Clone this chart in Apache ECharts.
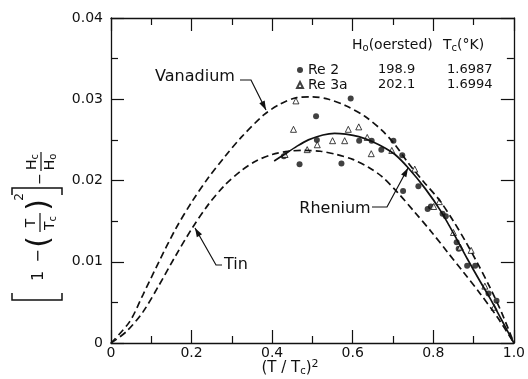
<!DOCTYPE html>
<html><head><meta charset="utf-8">
<script src="https://cdn.jsdelivr.net/npm/echarts@6/dist/echarts.min.js"></script>
<style>html,body{margin:0;padding:0;background:#fff}#c{width:528px;height:379px}</style>
</head><body><div id="c"></div>
<script>
// ---- data ----
const xTickLabels = ['0', '0.2', '0.4', '0.6', '0.8', '1.0'];
const yTickLabels = ['0', '0.01', '0.02', '0.03', '0.04'];

const vanadium = [[0,0],[0.046,0.0026],[0.079,0.0059],[0.119,0.0100],[0.160,0.0140],[0.201,0.0174],[0.241,0.0203],[0.282,0.0229],[0.323,0.0253],[0.380,0.0281],[0.420,0.0294],[0.461,0.0302],[0.500,0.0303],[0.540,0.0300],[0.583,0.0292],[0.630,0.0279],[0.672,0.0262],[0.705,0.0244],[0.737,0.0222],[0.775,0.0199],[0.815,0.0176],[0.850,0.0150],[0.880,0.0125],[0.910,0.0098],[0.940,0.0069],[0.970,0.0037],[1,0]];
const tin = [[0,0],[0.038,0.0014],[0.079,0.0038],[0.119,0.0071],[0.160,0.0107],[0.201,0.0141],[0.241,0.0170],[0.282,0.0194],[0.323,0.0212],[0.360,0.0224],[0.400,0.0232],[0.440,0.0236],[0.480,0.0237],[0.520,0.0236],[0.560,0.0232],[0.600,0.0226],[0.640,0.0216],[0.672,0.0205],[0.710,0.0186],[0.754,0.0161],[0.795,0.0137],[0.835,0.0112],[0.875,0.0087],[0.916,0.0061],[0.960,0.0031],[1,0]];
const rhenium = [[0.405,0.0224],[0.430,0.0232],[0.461,0.0242],[0.490,0.0250],[0.526,0.0256],[0.555,0.0258],[0.583,0.0257],[0.615,0.0254],[0.648,0.0248],[0.680,0.0240],[0.705,0.0232],[0.737,0.0216],[0.780,0.0190],[0.819,0.0162],[0.859,0.0127],[0.884,0.0104],[0.916,0.0076],[0.941,0.0055],[0.970,0.0028],[1,0]];

const re2 = [[0.595,0.0301],[0.509,0.0279],[0.511,0.0250],[0.616,0.0249],[0.647,0.0249],[0.671,0.0238],[0.701,0.0249],[0.723,0.0231],[0.429,0.0230],[0.468,0.0220],[0.572,0.0221],[0.725,0.0187],[0.763,0.0193],[0.786,0.0165],[0.794,0.0168],[0.823,0.0159],[0.831,0.0156],[0.858,0.0124],[0.863,0.0116],[0.884,0.0095],[0.904,0.0095],[0.937,0.0061],[0.957,0.0052]];
const re3a = [[0.459,0.0298],[0.453,0.0263],[0.589,0.0263],[0.615,0.0266],[0.550,0.0249],[0.580,0.0249],[0.636,0.0253],[0.512,0.0244],[0.487,0.0238],[0.432,0.0232],[0.646,0.0233],[0.697,0.0237],[0.754,0.0214],[0.801,0.0168],[0.815,0.0174],[0.850,0.0136],[0.867,0.0118],[0.894,0.0114],[0.928,0.0070],[0.951,0.0044]];

const seriesNames = ['Re 2', 'Re 3a'];
const h0Values = ['198.9', '202.1'];
const tcValues = ['1.6987', '1.6994'];
const curveLabels = ['Vanadium', 'Rhenium', 'Tin'];

// ---- chart ----
const F = 'DejaVu Sans';
const chart = echarts.init(document.getElementById('c'), null, {renderer: 'canvas'});
const axisCommon = {
  axisLine: {onZero: false, lineStyle: {color: '#111', width: 1.3}},
  axisTick: {inside: true, length: 13, lineStyle: {color: '#111', width: 1.2}},
  minorTick: {show: true, splitNumber: 2, length: 7, lineStyle: {color: '#111', width: 1.2}},
  splitLine: {show: false}, minorSplitLine: {show: false}
};
function arrow(pts) {
  const n = pts.length, t = pts[n-1], p = pts[n-2];
  const dx = t[0]-p[0], dy = t[1]-p[1], L = Math.hypot(dx, dy), ux = dx/L, uy = dy/L;
  const b = [t[0]-ux*9, t[1]-uy*9];
  return [
    {type: 'polyline', shape: {points: pts}, style: {stroke: '#111', lineWidth: 1.2, fill: null}},
    {type: 'polygon', shape: {points: [t, [b[0]-uy*3, b[1]+ux*3], [b[0]+uy*3, b[1]-ux*3]]}, style: {fill: '#111'}}
  ];
}
const txt = (x, y, s, size, extra) => Object.assign({type: 'text', x, y, style: Object.assign({text: s, fontFamily: F, fontSize: size, fill: '#111', align: 'center', verticalAlign: 'middle'}, extra || {})});
const sub = {s: {fontFamily: F, fontSize: 10, fill: '#111', padding: [7, 0, 0, 0]}};

const yLabel = {
  type: 'group', x: 37, y: 300, rotation: Math.PI / 2,
  children: [
    {type: 'polyline', shape: {points: [[7,-25],[0,-25],[0,25],[7,25]]}, style: {stroke: '#111', lineWidth: 1.5, fill: null}},
    txt(24, 2, '1', 16), txt(44, 2, '−', 16),
    txt(58, 3, '(', 30),
    txt(77, -6, 'T', 14),
    {type: 'line', shape: {x1: 68, y1: 3, x2: 87, y2: 3}, style: {stroke: '#111', lineWidth: 1.2}},
    txt(77, 13, '{t|T}{s|c}', 14, {rich: {t: {fontFamily: F, fontSize: 14, fill: '#111'}, s: sub.s}}),
    txt(95, 3, ')', 30),
    txt(103, -17, '2', 12),
    {type: 'polyline', shape: {points: [[105,-25],[112,-25],[112,25],[105,25]]}, style: {stroke: '#111', lineWidth: 1.5, fill: null}},
    txt(121, 3, '−', 14),
    txt(138, -5, '{t|H}{s|c}', 14, {rich: {t: {fontFamily: F, fontSize: 14, fill: '#111'}, s: sub.s}}),
    {type: 'line', shape: {x1: 129, y1: 4, x2: 148, y2: 4}, style: {stroke: '#111', lineWidth: 1.2}},
    txt(138, 13, '{t|H}{s|o}', 14, {rich: {t: {fontFamily: F, fontSize: 14, fill: '#111'}, s: sub.s}})
  ]
};

const graphics = [
  yLabel,
  txt(290, 368, '{t|(T / T}{s|c}{t|)}{p|2}', 15, {rich: {t: {fontFamily: F, fontSize: 15, fill: '#111'}, s: sub.s, p: {fontFamily: F, fontSize: 11, fill: '#111', padding: [0, 0, 8, 0]}}}),
  txt(352, 45, '{t|H}{s|o}{t|(oersted)}', 14, {align: 'left', rich: {t: {fontFamily: F, fontSize: 14, fill: '#111'}, s: sub.s}}),
  txt(443, 45, '{t|T}{s|c}{t|(°K)}', 14, {align: 'left', rich: {t: {fontFamily: F, fontSize: 14, fill: '#111'}, s: sub.s}}),
  txt(378, 70, h0Values[0], 13, {align: 'left'}), txt(447, 70, tcValues[0], 13, {align: 'left'}),
  txt(378, 85, h0Values[1], 13, {align: 'left'}), txt(447, 85, tcValues[1], 13, {align: 'left'}),
  txt(195, 77, curveLabels[0], 16), ...arrow([[240,80],[251,80],[266,110]]),
  txt(335, 209, curveLabels[1], 16), ...arrow([[372,207],[387,207],[408,168]]),
  txt(236, 265, curveLabels[2], 16), ...arrow([[222,265],[216,265],[195,228]])
];

chart.setOption({
  animation: false,
  backgroundColor: '#fff',
  grid: {left: 111, right: 7, top: 18, bottom: 36},
  legend: {
    data: seriesNames, orient: 'vertical', left: 296, top: 63, padding: 0,
    itemWidth: 6, itemHeight: 6, itemGap: 1,
    textStyle: {fontFamily: F, fontSize: 14, color: '#111', lineHeight: 14}
  },
  xAxis: [
    Object.assign({type: 'value', position: 'bottom', min: 0, max: 1, interval: 0.2,
      axisLabel: {margin: 3, fontFamily: F, fontSize: 14, color: '#111', formatter: v => xTickLabels[Math.round(v / 0.2)]}}, axisCommon),
    Object.assign({type: 'value', position: 'top', min: 0, max: 1, interval: 0.2, axisLabel: {show: false}}, axisCommon)
  ],
  yAxis: [
    Object.assign({type: 'value', position: 'left', min: 0, max: 0.04, interval: 0.01,
      axisLabel: {margin: 8, fontFamily: F, fontSize: 14, color: '#111', formatter: v => yTickLabels[Math.round(v / 0.01)]}}, axisCommon),
    Object.assign({type: 'value', position: 'right', min: 0, max: 0.04, interval: 0.01, axisLabel: {show: false}}, axisCommon)
  ],
  series: [
    {name: 'Vanadium', type: 'line', data: vanadium, smooth: 0.3, showSymbol: false, lineStyle: {color: '#111', width: 1.7, type: [7, 4]}},
    {name: 'Tin', type: 'line', data: tin, smooth: 0.3, showSymbol: false, lineStyle: {color: '#111', width: 1.7, type: [7, 4]}},
    {name: 'Rhenium', type: 'line', data: rhenium, smooth: 0.3, showSymbol: false, lineStyle: {color: '#111', width: 1.7}},
    {name: 'Re 2', type: 'scatter', data: re2, symbol: 'circle', symbolSize: 6, itemStyle: {color: '#111'}},
    {name: 'Re 3a', type: 'scatter', data: re3a, symbol: 'triangle', symbolSize: 6, itemStyle: {color: '#fff', borderColor: '#111', borderWidth: 1}}
  ],
  graphic: graphics
});
</script></body></html>
